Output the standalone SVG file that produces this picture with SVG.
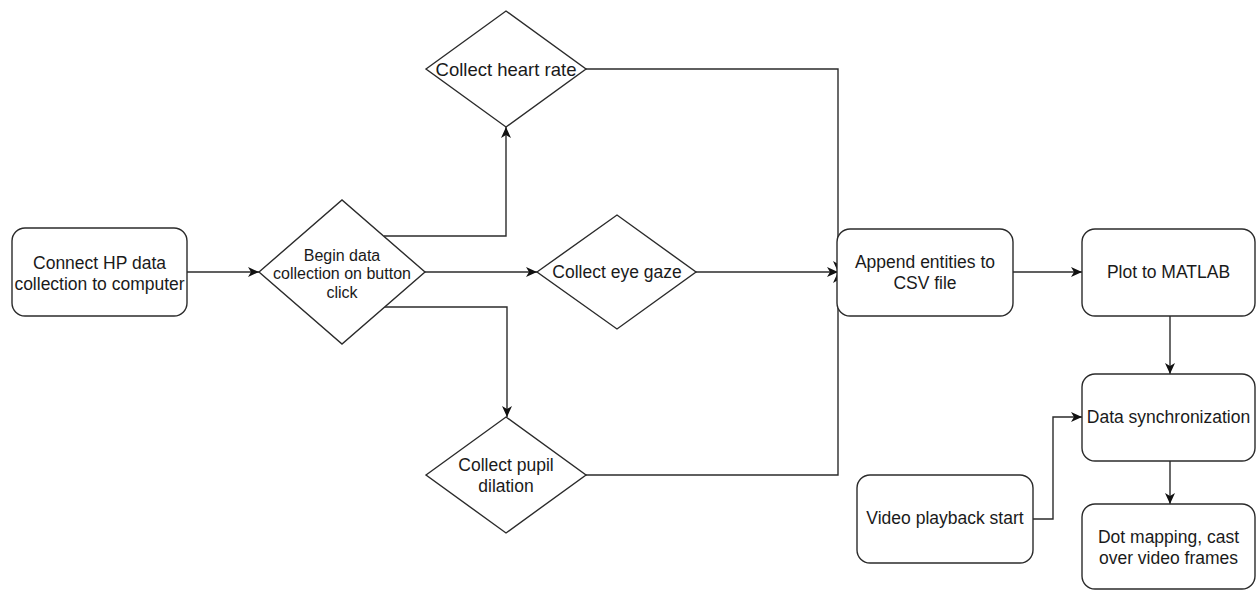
<svg xmlns="http://www.w3.org/2000/svg" width="1257" height="590" viewBox="0 0 1257 590">
  <style>
    .shape { fill: #ffffff; stroke: #2b2b2b; stroke-width: 1.4; }
    .edge { fill: none; stroke: #2b2b2b; stroke-width: 1.4; }
    text { font-family: "Liberation Sans", Arial, sans-serif; font-size: 17.5px; fill: #1a1a1a; text-anchor: middle; }
    .small { font-size: 16px; }
    .big { font-size: 18.5px; }
  </style>
  <defs>
    <marker id="arrow" viewBox="0 0 11 10" refX="11" refY="5" markerWidth="11" markerHeight="10" markerUnits="userSpaceOnUse" orient="auto">
      <path d="M0,0 L11,5 L0,10 L3,5 Z" fill="#111111"/>
    </marker>
  </defs>
  <rect width="1257" height="590" fill="#ffffff"/>

  <g id="connectors">
    <path class="edge" d="M187,272 H259" marker-end="url(#arrow)"/>
    <path class="edge" d="M384,236 H506 V127" marker-end="url(#arrow)"/>
    <path class="edge" d="M425,272 H537" marker-end="url(#arrow)"/>
    <path class="edge" d="M384,307 H507 V417" marker-end="url(#arrow)"/>
    <path class="edge" d="M586,69 H838 V272" marker-end="url(#arrow)"/>
    <path class="edge" d="M696,272 H838" marker-end="url(#arrow)"/>
    <path class="edge" d="M586,475 H838 V272" marker-end="url(#arrow)"/>
    <path class="edge" d="M1013,272 H1082" marker-end="url(#arrow)"/>
    <path class="edge" d="M1170,316 V374" marker-end="url(#arrow)"/>
    <path class="edge" d="M1170,461 V504" marker-end="url(#arrow)"/>
    <path class="edge" d="M1033,519 H1053 V417 H1082" marker-end="url(#arrow)"/>
  </g>

  <g id="connect-hp">
    <rect class="shape" x="12" y="228" width="175" height="88" rx="13"/>
    <text x="99.5" y="269">Connect HP data</text>
    <text x="99.5" y="290">collection to computer</text>
  </g>

  <g id="begin-collection">
    <polygon class="shape" points="259,272 342,200 425,272 342,344"/>
    <text class="small" x="342" y="260.5">Begin data</text>
    <text class="small" x="342" y="279">collection on button</text>
    <text class="small" x="342" y="297.5">click</text>
  </g>

  <g id="heart-rate">
    <polygon class="shape" points="426,69 506,11 586,69 506,127"/>
    <text class="big" x="506" y="75.5">Collect heart rate</text>
  </g>

  <g id="eye-gaze">
    <polygon class="shape" points="537,272 617,215 696,272 617,329"/>
    <text x="617" y="278">Collect eye gaze</text>
  </g>

  <g id="pupil-dilation">
    <polygon class="shape" points="426,475 506,417 586,475 506,533"/>
    <text x="506" y="471">Collect pupil</text>
    <text x="506" y="492">dilation</text>
  </g>

  <g id="append-csv">
    <rect class="shape" x="837" y="229" width="176" height="87" rx="13"/>
    <text x="925" y="268">Append entities to</text>
    <text x="925" y="289">CSV file</text>
  </g>

  <g id="plot-matlab">
    <rect class="shape" x="1082" y="229" width="173" height="87" rx="13"/>
    <text x="1168.5" y="278">Plot to MATLAB</text>
  </g>

  <g id="data-sync">
    <rect class="shape" x="1082" y="374" width="173" height="87" rx="13"/>
    <text x="1168.5" y="423">Data synchronization</text>
  </g>

  <g id="video-start">
    <rect class="shape" x="857" y="475" width="176" height="88" rx="13"/>
    <text x="945" y="524">Video playback start</text>
  </g>

  <g id="dot-mapping">
    <rect class="shape" x="1082" y="504" width="173" height="85" rx="13"/>
    <text x="1168.5" y="543">Dot mapping, cast</text>
    <text x="1168.5" y="564">over video frames</text>
  </g>
</svg>
